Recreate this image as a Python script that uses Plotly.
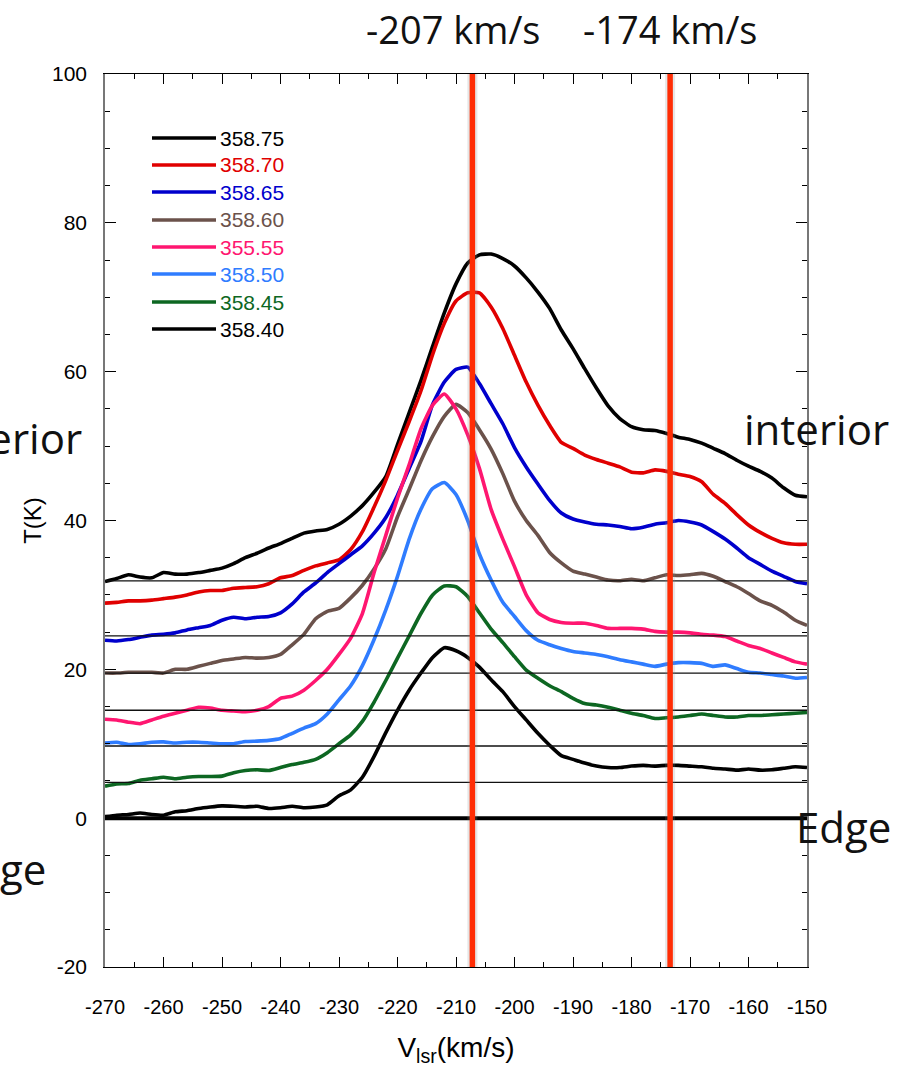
import plotly.graph_objects as go

# ---------------- data ----------------
velocity = list(range(-270, -149, 2))

labels = ["358.75", "358.70", "358.65", "358.60", "355.55", "358.50", "358.45", "358.40"]
colors = ["#000000", "#e00000", "#0000cc", "#6b524b", "#ff1670", "#2f7cff", "#0d6722", "#000000"]

t_35875 = [31.8, 32.2, 32.7, 32.4, 32.3, 33.0, 32.8, 32.8, 33.0, 33.3,
           33.6, 34.2, 35.0, 35.6, 36.3, 36.9, 37.6, 38.3, 38.6, 38.8,
           39.5, 40.6, 42.0, 43.8, 45.9, 50.2, 54.5, 58.8, 63.4, 67.9,
           71.8, 74.6, 75.7, 75.8, 75.2, 74.2, 72.6, 70.7, 68.5, 65.6,
           63.1, 60.4, 57.8, 55.4, 53.7, 52.6, 52.2, 52.1, 51.7, 51.2,
           50.9, 50.4, 49.7, 49.0, 48.1, 47.3, 46.6, 45.7, 44.4, 43.4,
           43.2]
t_35870 = [28.9, 29.0, 29.2, 29.2, 29.3, 29.5, 29.7, 30.0, 30.4, 30.6,
           30.6, 30.9, 31.0, 31.1, 31.5, 32.3, 32.6, 33.3, 33.9, 34.3,
           34.7, 36.1, 38.5, 41.8, 45.4, 49.4, 53.3, 57.4, 62.3, 66.5,
           69.5, 70.6, 70.6, 68.7, 65.8, 62.2, 58.6, 55.5, 52.8, 50.5,
           49.7, 48.8, 48.2, 47.7, 47.2, 46.5, 46.4, 46.8, 46.6, 46.2,
           45.9, 45.2, 43.5, 42.3, 40.8, 39.4, 38.4, 37.6, 37.0, 36.8,
           36.8]
t_35865 = [23.9, 23.8, 24.0, 24.3, 24.6, 24.7, 24.9, 25.3, 25.6, 25.9,
           26.6, 27.0, 26.8, 27.0, 27.1, 27.6, 28.8, 30.4, 31.6, 33.0,
           34.2, 35.4, 36.6, 38.3, 40.4, 43.4, 47.0, 50.6, 55.6, 58.6,
           60.3, 60.6, 58.4, 55.7, 53.0, 49.8, 47.2, 44.9, 42.7, 41.0,
           40.2, 39.8, 39.5, 39.4, 39.2, 38.9, 39.1, 39.5, 39.7, 40.0,
           39.8, 39.4, 38.5, 37.5, 36.3, 35.0, 34.1, 33.2, 32.5, 31.8,
           31.5]
t_35860 = [19.5, 19.5, 19.6, 19.6, 19.6, 19.5, 20.0, 20.0, 20.4, 20.8,
           21.2, 21.4, 21.6, 21.5, 21.6, 22.0, 23.3, 24.7, 26.8, 27.8,
           28.2, 29.6, 31.3, 33.5, 36.2, 40.5, 44.2, 48.0, 51.3, 54.0,
           55.6, 54.5, 52.2, 49.6, 46.3, 42.6, 40.0, 38.0, 35.7, 34.3,
           33.2, 32.8, 32.4, 32.0, 31.9, 32.1, 31.9, 32.3, 32.7, 32.6,
           32.7, 32.9, 32.5, 31.8, 31.1, 30.2, 29.2, 28.6, 27.7, 26.6,
           25.9]
t_35555 = [13.3, 13.2, 12.9, 12.7, 13.2, 13.7, 14.1, 14.5, 14.9, 14.8,
           14.5, 14.4, 14.3, 14.5, 15.0, 16.1, 16.4, 17.2, 18.5, 20.0,
           22.0, 24.2, 27.5, 33.0, 38.0, 43.0, 47.5, 52.3, 55.5, 57.0,
           55.0, 51.5, 47.0, 41.5, 37.5, 33.8, 30.0, 27.6, 26.7, 26.3,
           26.2, 26.2, 25.9, 25.5, 25.5, 25.5, 25.4, 25.1, 25.0, 25.0,
           24.9, 24.7, 24.6, 24.4, 23.8, 23.2, 22.8, 22.2, 21.6, 21.0,
           20.7]
t_35850 = [10.1, 10.2, 9.9, 10.0, 10.2, 10.25, 10.1, 10.2, 10.2, 10.1,
           10.0, 10.0, 10.3, 10.35, 10.45, 10.7, 11.4, 12.1, 12.7, 14.0,
           15.9, 17.8, 20.5, 24.0, 28.0, 32.5, 37.5, 41.5, 44.3, 45.1,
           43.5, 40.0, 35.5, 32.0, 29.0, 27.1, 25.2, 23.9, 23.3, 22.8,
           22.4, 22.2, 22.0, 21.7, 21.3, 21.0, 20.7, 20.4, 20.7, 20.9,
           20.9, 20.8, 20.4, 20.6, 20.1, 19.6, 19.5, 19.3, 19.1, 18.8,
           18.9]
t_35845 = [4.3, 4.6, 4.65, 5.1, 5.3, 5.5, 5.3, 5.5, 5.6, 5.6,
           5.65, 6.1, 6.4, 6.5, 6.4, 6.8, 7.2, 7.5, 7.9, 8.8,
           10.0, 11.2, 13.0, 15.6, 18.5, 21.5, 24.5, 27.5, 30.0, 31.2,
           31.1, 29.8, 27.6, 25.4, 23.6, 21.7, 19.9, 18.8, 17.8, 17.0,
           16.1, 15.4, 15.2, 14.9, 14.5, 14.1, 13.8, 13.4, 13.5, 13.6,
           13.8, 14.0, 13.8, 13.6, 13.6, 13.8, 13.8, 13.9, 14.0, 14.1,
           14.2]
t_35840 = [0.2, 0.4, 0.5, 0.7, 0.5, 0.4, 0.85, 1.0, 1.3, 1.5,
           1.65, 1.6, 1.5, 1.6, 1.3, 1.4, 1.6, 1.4, 1.5, 1.8,
           3.0, 3.8, 5.5, 8.3, 11.5, 14.5, 17.2, 19.5, 21.6, 22.9,
           22.5, 21.6, 20.3, 18.6, 17.0, 15.0, 13.2, 11.4, 9.8, 8.4,
           7.9, 7.4, 7.0, 6.8, 6.8, 7.0, 7.1, 7.0, 7.1, 7.1,
           7.0, 6.9, 6.7, 6.6, 6.45, 6.6, 6.45, 6.5, 6.7, 6.9,
           6.8]
series = [t_35875, t_35870, t_35865, t_35860, t_35555, t_35850, t_35845, t_35840]

baselines = [4.8, 9.7, 14.5, 19.5, 24.5, 31.9]
edge_level = 0
marker_velocities = [-207.2, -173.4]
marker_labels = ["-207 km/s", "-174 km/s"]

x_tick_vals = [-270, -260, -250, -240, -230, -220, -210, -200, -190, -180, -170, -160, -150]
x_tick_text = ["-270", "-260", "-250", "-240", "-230", "-220", "-210", "-200", "-190", "-180", "-170", "-160", "-150"]
y_tick_vals = [-20, 0, 20, 40, 60, 80, 100]
y_tick_text = ["-20", "0", "20", "40", "60", "80", "100"]

# ---------------- layout geometry (pixels) ----------------
W, H = 910, 1084
L, R, T, B = 105, 103, 74, 117
PW, PH = W - L - R, H - T - B


def px_x(px):
    return (px - L) / PW


def px_y(py):
    return (H - B - py) / PH


fig = go.Figure()
for lab, col, ys in zip(labels, colors, series):
    fig.add_trace(go.Scatter(x=velocity, y=ys, mode="lines", name=lab,
                             line=dict(color=col, width=3.6, shape="spline", smoothing=0.5),
                             showlegend=False))

shapes = []
for b in baselines:
    shapes.append(dict(type="line", xref="paper", yref="y", x0=0, x1=1, y0=b, y1=b,
                       line=dict(color="#111111", width=1.3), layer="above"))
shapes.append(dict(type="line", xref="paper", yref="y", x0=0, x1=1, y0=edge_level, y1=edge_level,
                   line=dict(color="#000000", width=4), layer="above"))
for v in marker_velocities:
    shapes.append(dict(type="line", xref="x", yref="paper", x0=v, x1=v, y0=0, y1=1,
                       line=dict(color="rgba(140,140,140,0.22)", width=10), layer="above"))
    shapes.append(dict(type="line", xref="x", yref="paper", x0=v, x1=v, y0=0, y1=1,
                       line=dict(color="#ff2d05", width=5.5), layer="above"))

# custom legend
leg_rows = [138, 165, 192, 220, 247, 274, 302, 329]
annotations = []
for lab, col, ry in zip(labels, colors, leg_rows):
    shapes.append(dict(type="line", xref="paper", yref="paper", x0=px_x(152), x1=px_x(216),
                       y0=px_y(ry), y1=px_y(ry), line=dict(color=col, width=3.6)))
    annotations.append(dict(xref="paper", yref="paper", x=px_x(218), y=px_y(ry), text=lab,
                            showarrow=False, xanchor="left", yanchor="middle",
                            font=dict(family="Liberation Sans, Arial", size=21, color=col)))

top_font = dict(family="Open Sans, Noto Sans", size=38, color="#111111")
side_font = dict(family="Open Sans, Noto Sans", size=42, color="#111111")
annotations += [
    dict(xref="paper", yref="paper", x=px_x(453), y=px_y(29), text=marker_labels[0],
         showarrow=False, xanchor="center", yanchor="middle", font=top_font),
    dict(xref="paper", yref="paper", x=px_x(670), y=px_y(29), text=marker_labels[1],
         showarrow=False, xanchor="center", yanchor="middle", font=top_font),
    dict(xref="paper", yref="paper", x=px_x(742), y=px_y(428), text="interior",
         showarrow=False, xanchor="left", yanchor="middle", font=side_font),
    dict(xref="paper", yref="paper", x=px_x(794), y=px_y(826), text="Edge",
         showarrow=False, xanchor="left", yanchor="middle", font=side_font),
    dict(xref="paper", yref="paper", x=px_x(84), y=px_y(438), text="interior",
         showarrow=False, xanchor="right", yanchor="middle", font=side_font),
    dict(xref="paper", yref="paper", x=px_x(48), y=px_y(868), text="Edge",
         showarrow=False, xanchor="right", yanchor="middle", font=side_font),
]

fig.update_layout(
    width=W, height=H,
    margin=dict(l=L, r=R, t=T, b=B),
    paper_bgcolor="white", plot_bgcolor="white",
    shapes=shapes, annotations=annotations,
    xaxis=dict(range=[-270, -150], tickmode="array", tickvals=x_tick_vals, ticktext=x_tick_text,
               ticks="inside", ticklen=10, tickwidth=1, tickcolor="#000",
               showline=True, linecolor="#000", linewidth=1.2, mirror="allticks",
               showgrid=False, zeroline=False,
               minor=dict(dtick=5, tick0=-270, ticks="inside", ticklen=5, tickcolor="#000", showgrid=False),
               tickfont=dict(family="Liberation Sans Narrow, Arial Narrow, Liberation Sans", size=20, color="#000"),
               ticklabelstandoff=22,
               title=dict(text="V<sub>lsr</sub>(km/s)", standoff=20,
                          font=dict(family="Liberation Sans Narrow, Arial Narrow, Liberation Sans", size=28, color="#000"))),
    yaxis=dict(range=[-20, 100], tickmode="array", tickvals=y_tick_vals, ticktext=y_tick_text,
               ticks="inside", ticklen=11, tickwidth=1, tickcolor="#000",
               showline=True, linecolor="#777", linewidth=1.5, mirror="allticks",
               showgrid=False, zeroline=False,
               minor=dict(dtick=5, tick0=0, ticks="inside", ticklen=5, tickcolor="#000", showgrid=False),
               tickfont=dict(family="Liberation Sans, Arial", size=21, color="#000"),
               ticklabelstandoff=12,
               title=dict(text="T(K)", standoff=4,
                          font=dict(family="Liberation Sans, Arial", size=24, color="#000"))),
)

fig.write_html("out.html")
